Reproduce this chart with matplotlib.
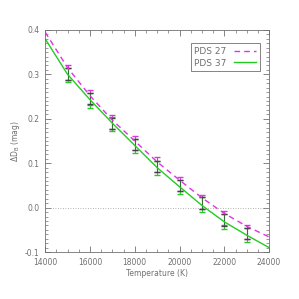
import numpy as np
import matplotlib
matplotlib.use('Agg')
from matplotlib import pyplot as plt
from matplotlib.ticker import MultipleLocator

# temperature grid (K)
temp_line = [14000, 15000, 16000, 17000, 18000, 19000, 20000, 21000, 22000, 23000, 24000]
pds27 = [0.395, 0.315, 0.252, 0.197, 0.150, 0.103, 0.062, 0.022, -0.013, -0.042, -0.066]
pds37 = [0.380, 0.300, 0.243, 0.190, 0.140, 0.090, 0.047, 0.005, -0.032, -0.062, -0.090]

# error bar points
temp_pts = [15000, 16000, 17000, 18000, 19000, 20000, 21000, 22000, 23000]
err_27 = [0.304, 0.248, 0.193, 0.146, 0.097, 0.053, 0.013, -0.024, -0.054]
err_37 = [0.298, 0.241, 0.188, 0.139, 0.090, 0.046, 0.007, -0.031, -0.061]
err_obs = [0.301, 0.245, 0.190, 0.142, 0.093, 0.050, 0.010, -0.028, -0.058]
sig = 0.016

grey = '#707070'
mag = '#e033e0'
grn = '#22cc22'

plt.rcParams['font.size'] = 5.5
fig = plt.figure(figsize=(2.99, 2.99), dpi=100)
ax = fig.add_axes([0.151, 0.157, 0.749, 0.743])

ax.axhline(0.0, color='#999999', ls=(0, (1, 2)), lw=0.6)

ax.errorbar(temp_pts, err_27, yerr=sig, fmt='none', ecolor=mag, elinewidth=0.8, capsize=2.5)
ax.errorbar(temp_pts, err_37, yerr=sig, fmt='none', ecolor=grn, elinewidth=0.8, capsize=2.5)
ax.errorbar(temp_pts, err_obs, yerr=sig * 0.8, fmt='none', ecolor='#444444', elinewidth=0.5, capsize=2)

ax.plot(temp_line, pds27, color=mag, ls=(0, (4, 3)), lw=1.0, label='PDS 27')
ax.plot(temp_line, pds37, color=grn, lw=1.0, label='PDS 37')

ax.set_xlim(14000, 24000)
ax.set_ylim(-0.1, 0.4)
ax.xaxis.set_major_locator(MultipleLocator(2000))
ax.xaxis.set_minor_locator(MultipleLocator(500))
ax.yaxis.set_major_locator(MultipleLocator(0.1))
ax.yaxis.set_minor_locator(MultipleLocator(0.01))
ax.yaxis.set_major_formatter(plt.FuncFormatter(lambda v, p: '%.1f' % v if abs(v) > 1e-9 else '0.0'))
ax.tick_params(which='both', direction='in', top=True, right=True, colors=grey, labelcolor=grey)
ax.tick_params(which='major', length=4, width=0.6, pad=4)
ax.tick_params(which='minor', length=2, width=0.5)
for s in ax.spines.values():
    s.set_color(grey)
    s.set_linewidth(0.6)

ax.set_xlabel('Temperature (K)', color=grey, labelpad=2)
ax.set_ylabel(r'$\Delta$D$_{\rm B}$ (mag)', color=grey, labelpad=2)

leg = ax.legend(loc='upper right', markerfirst=False, fancybox=False, framealpha=1,
                edgecolor=grey, handlelength=2.5, borderpad=0.4, labelspacing=0.3,
                bbox_to_anchor=(0.98, 0.96), fontsize=6.5)
for t in leg.get_texts():
    t.set_color(grey)
leg.get_frame().set_linewidth(0.6)

fig.savefig('out.png', dpi=100)
